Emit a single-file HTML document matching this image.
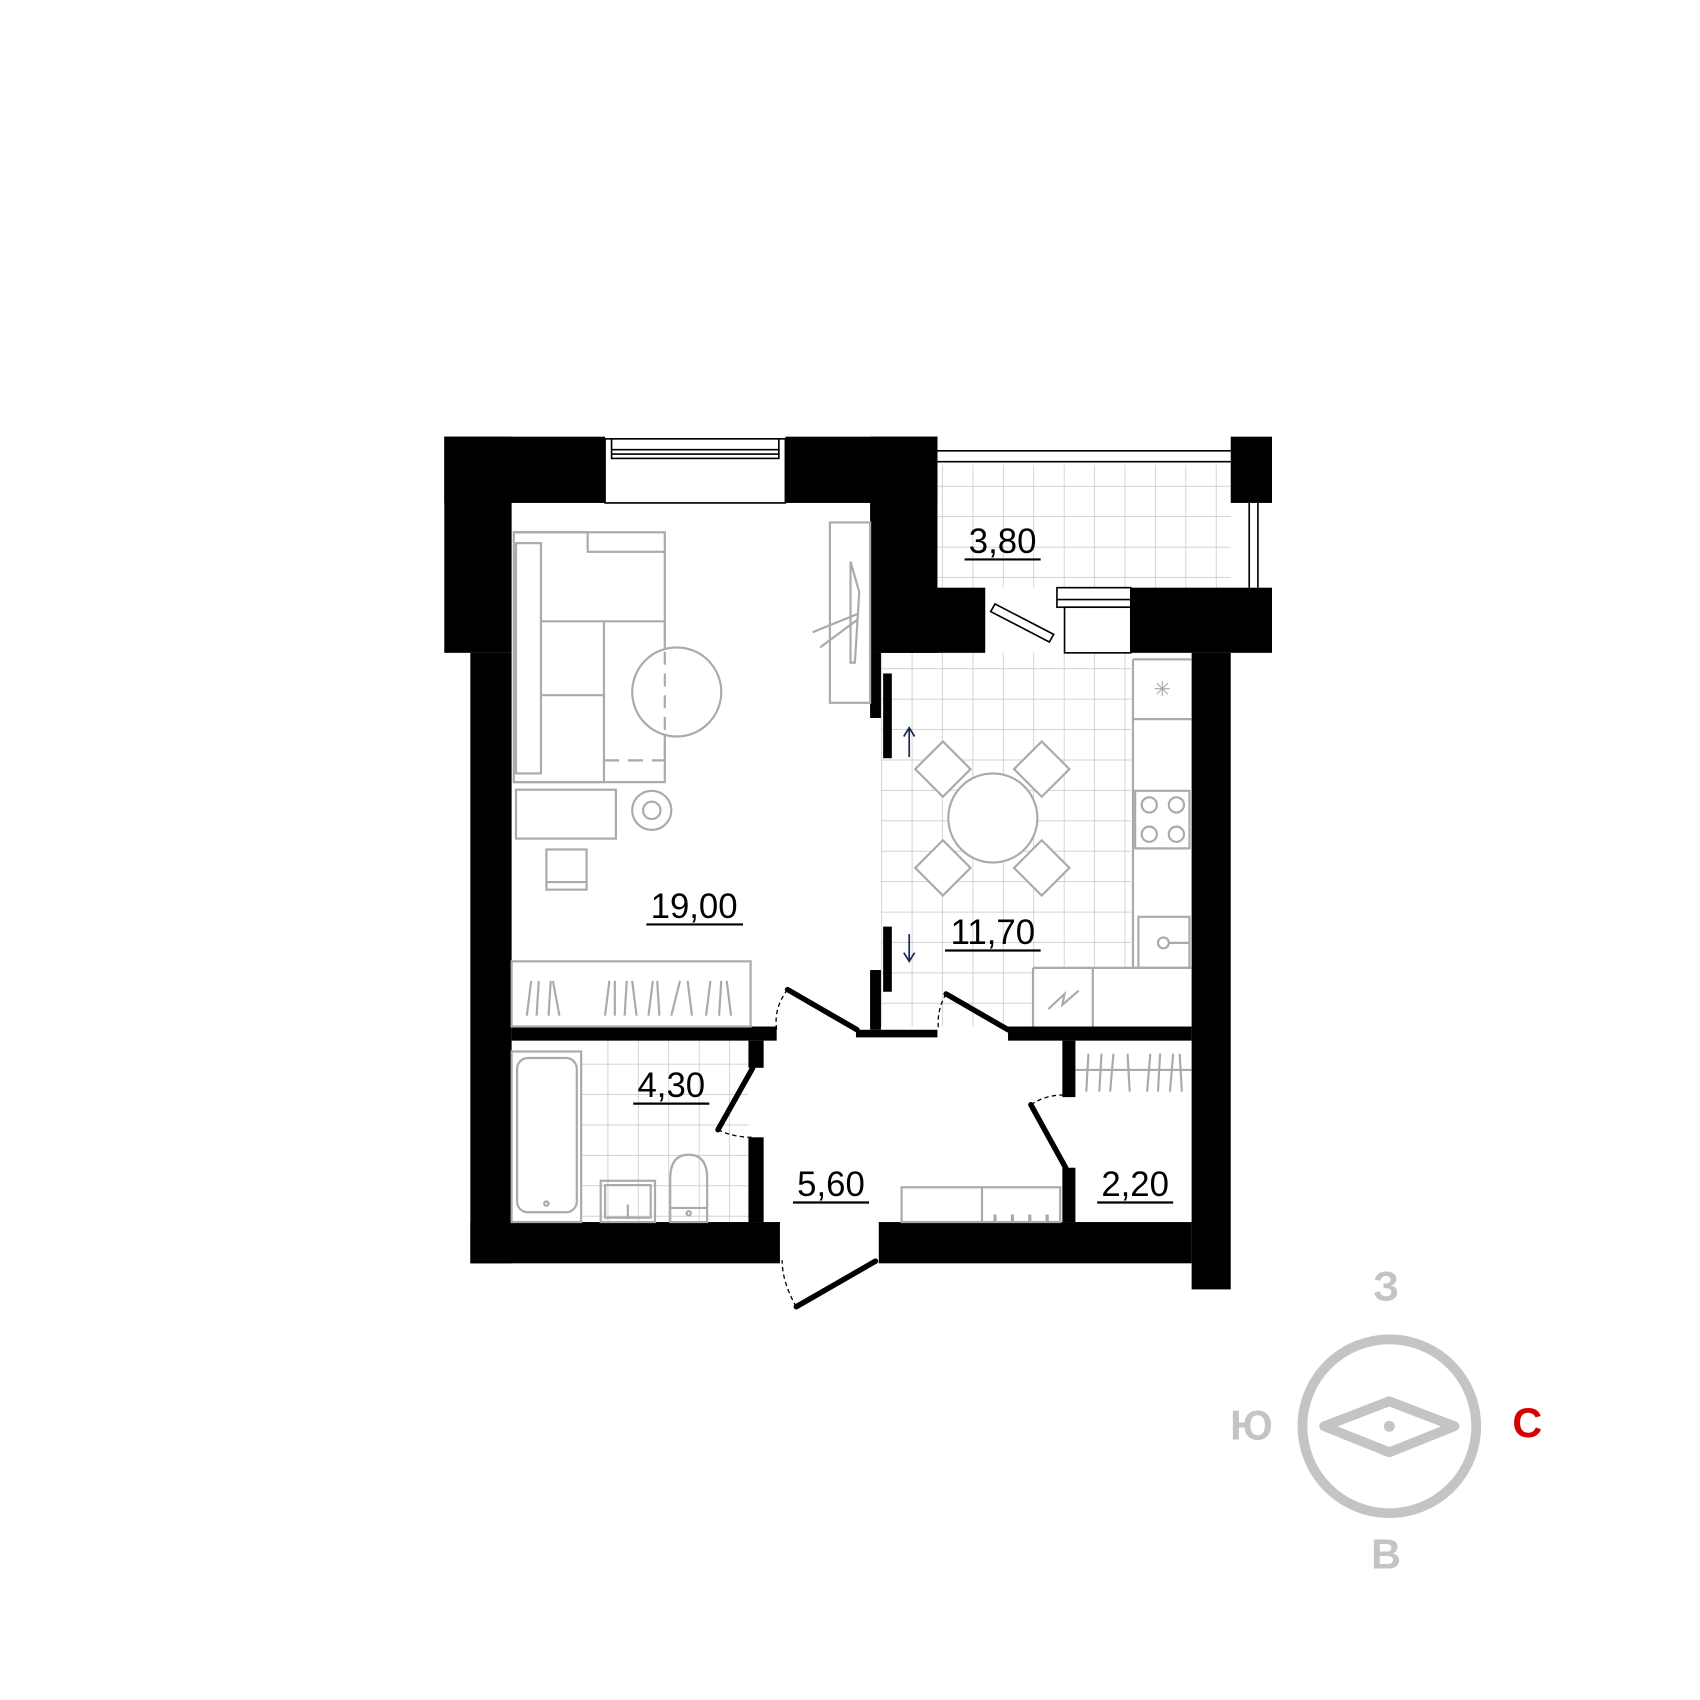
<!DOCTYPE html>
<html><head><meta charset="utf-8"><style>html,body{margin:0;padding:0;background:#fff}svg{display:block}</style></head>
<body>
<svg width="1700" height="1700" viewBox="0 0 1565 1565" xmlns="http://www.w3.org/2000/svg">
<defs>
<pattern id="t" width="28" height="28" patternUnits="userSpaceOnUse"><path d="M28 0V28M0 28H28" stroke="#c4c4c4" stroke-width="1.3" fill="none"/></pattern>
</defs>
<rect x="863" y="428" width="270" height="113" fill="url(#t)"/>
<rect x="811" y="601" width="230" height="290" fill="url(#t)"/>
<rect x="811" y="891" width="140" height="54" fill="url(#t)"/>
<rect x="535" y="958" width="154" height="167" fill="url(#t)"/>
<g fill="#000">
<rect x="409" y="402" width="148" height="61"/>
<rect x="409" y="402" width="62" height="199"/>
<rect x="433" y="601" width="38" height="562"/>
<rect x="723" y="402" width="140" height="61"/>
<rect x="801" y="402" width="62" height="199"/>
<rect x="801" y="541" width="106" height="60"/>
<rect x="1133" y="402" width="38" height="61"/>
<rect x="1041" y="541" width="130" height="60"/>
<rect x="1097" y="601" width="36" height="586"/>
<rect x="433" y="1125" width="285" height="38"/>
<rect x="809" y="1125" width="288" height="38"/>
<rect x="471" y="945" width="244" height="13"/>
<rect x="928" y="945" width="169" height="13"/>
<rect x="788" y="948" width="75" height="7"/>
<rect x="689" y="958" width="14" height="25"/>
<rect x="689" y="1047" width="14" height="78"/>
<rect x="978" y="958" width="12" height="52"/>
<rect x="978" y="1075" width="12" height="50"/>
<rect x="801" y="601" width="10" height="60"/>
<rect x="813" y="620" width="8" height="78"/>
<rect x="813" y="853" width="8" height="60"/>
<rect x="801" y="893" width="10" height="55"/>
</g>
<rect x="557" y="404" width="166" height="59" fill="#fff" stroke="#000" stroke-width="1.5"/>
<rect x="563" y="404" width="154" height="18" fill="#fff" stroke="#000" stroke-width="1.5"/>
<line x1="563" y1="414" x2="717" y2="414" stroke="#000" stroke-width="1.5"/>
<line x1="563" y1="418" x2="717" y2="418" stroke="#000" stroke-width="1.5"/>
<g stroke="#000" stroke-width="1.5" fill="none">
<line x1="863" y1="415" x2="1133" y2="415"/><line x1="863" y1="425" x2="1133" y2="425"/>
<line x1="1150" y1="463" x2="1150" y2="541"/><line x1="1158" y1="463" x2="1158" y2="541"/>
<rect x="973" y="541" width="68" height="18" fill="#fff"/>
<rect x="980" y="559" width="61" height="42" fill="#fff"/>
<line x1="973" y1="552" x2="1041" y2="552"/>
<polygon points="916,556 970,584 966,591 912,563" fill="#fff"/>
</g>
<g stroke="#aaa" stroke-width="2" fill="none">
<rect x="473" y="490" width="139" height="230"/>
<path d="M473 490H541V508H612M473 720H556V572H612"/>
<rect x="475" y="500" width="23" height="212"/>
<line x1="498" y1="572" x2="556" y2="572"/><line x1="498" y1="640" x2="556" y2="640"/>
<line x1="612" y1="572" x2="612" y2="700" stroke-dasharray="14,8"/>
<line x1="556" y1="700" x2="612" y2="700" stroke-dasharray="14,8"/>
<circle cx="623" cy="637" r="41" fill="#fff"/>
<line x1="612" y1="600" x2="612" y2="676" stroke-dasharray="12,8"/>
<rect x="475" y="727" width="92" height="45"/>
<circle cx="600" cy="746" r="18"/><circle cx="600" cy="746" r="8"/>
<rect x="503" y="782" width="37" height="37"/><line x1="503" y1="812" x2="540" y2="812"/>
<rect x="764" y="481" width="37" height="166"/>
<path d="M783 517L791 545L787 610L783 610Z"/>
<line x1="748" y1="582" x2="790" y2="565"/><line x1="755" y1="596" x2="790" y2="570"/>
<rect x="471" y="885" width="220" height="60"/>
<path d="M485 935L489 903M494 935L496 903M505 935L507 903M515 935L509 903M557 935L561 903M566 935L566 903M575 935L577 903M586 935L582 903M597 935L601 903M607 935L605 903M618 935L626 903M637 935L633 903M650 935L654 903M662 935L664 903M673 935L669 903"/>
<circle cx="914" cy="753" r="41" fill="#fff"/>
<g fill="#fff">
<rect x="850" y="690" width="36" height="36" transform="rotate(45 868 708)"/>
<rect x="941" y="690" width="36" height="36" transform="rotate(45 959 708)"/>
<rect x="850" y="781" width="36" height="36" transform="rotate(45 868 799)"/>
<rect x="941" y="781" width="36" height="36" transform="rotate(45 959 799)"/>
</g>
<path d="M1043 607H1097M1043 607V662H1097M1043 891H1097M1043 607V891"/>
<path d="M1063 634H1077M1070 627V641M1065 629L1075 639M1075 629L1065 639" stroke-width="1"/>
<rect x="1045" y="728" width="50" height="53"/>
<circle cx="1058" cy="741" r="7"/><circle cx="1083" cy="741" r="7"/><circle cx="1058" cy="768" r="7"/><circle cx="1083" cy="768" r="7"/>
<rect x="1048" y="844" width="47" height="47"/>
<circle cx="1071" cy="868" r="5"/><line x1="1076" y1="868" x2="1095" y2="868"/>
<path d="M951 891H1097M951 891V945M1006 891V945"/>
<path d="M965 929L980 915L978 925L993 912"/>
<rect x="471" y="968" width="64" height="157"/>
<rect x="476" y="974" width="55" height="142" rx="10"/>
<circle cx="503" cy="1108" r="2"/>
<rect x="553" y="1087" width="50" height="38"/><rect x="557" y="1091" width="42" height="30"/>
<path d="M578 1109V1120M574 1121H583"/>
<path d="M617 1125V1085Q617 1063 634 1063Q651 1063 651 1085V1125Z"/><line x1="617" y1="1112" x2="651" y2="1112"/>
<circle cx="634" cy="1117" r="2"/>
<path d="M1000 1005L1002 970M1012 1005L1014 970M1022 1005L1025 970M1040 1005L1038 970M1056 1005L1059 970M1066 1005L1068 970M1077 1005L1080 970M1088 1005L1086 970"/>
<line x1="990" y1="985" x2="1097" y2="985"/>
<rect x="830" y="1093" width="146" height="32"/><line x1="904" y1="1093" x2="904" y2="1125"/>
<path d="M916 1118V1125M932 1118V1125M948 1118V1125M964 1118V1125" stroke-width="3"/>
</g>
<g stroke="#000" stroke-width="5" fill="none" stroke-linecap="round">
<line x1="725" y1="911" x2="789" y2="948"/>
<line x1="871" y1="915" x2="928" y2="948"/>
<line x1="693" y1="983" x2="661" y2="1040"/>
<line x1="949" y1="1017" x2="981" y2="1075"/>
<line x1="733" y1="1203" x2="806" y2="1161"/>
</g>
<g stroke="#000" stroke-width="1.2" fill="none" stroke-dasharray="4,3">
<path d="M725 911Q712 928 715 948"/>
<path d="M871 915Q862 930 864 948"/>
<path d="M661 1040Q675 1047 693 1047"/>
<path d="M949 1017Q962 1008 980 1008"/>
<path d="M733 1203Q720 1180 720 1160"/>
</g>
<g stroke="#1f2a5a" stroke-width="1.6" fill="none">
<path d="M837 697V671M832 678L837 670L842 678"/>
<path d="M837 860V885M832 877L837 885L842 877"/>
</g>
<g font-family="Liberation Sans, sans-serif" font-size="32" fill="#000" text-anchor="middle">
<text x="923" y="509">3,80</text><line x1="888" y1="515" x2="958" y2="515" stroke="#000" stroke-width="2"/>
<text x="639" y="845">19,00</text><line x1="595" y1="851" x2="684" y2="851" stroke="#000" stroke-width="2"/>
<text x="914" y="869">11,70</text><line x1="870" y1="875" x2="958" y2="875" stroke="#000" stroke-width="2"/>
<text x="618" y="1010">4,30</text><line x1="583" y1="1016" x2="653" y2="1016" stroke="#000" stroke-width="2"/>
<text x="765" y="1101">5,60</text><line x1="730" y1="1107" x2="800" y2="1107" stroke="#000" stroke-width="2"/>
<text x="1045" y="1101">2,20</text><line x1="1010" y1="1107" x2="1080" y2="1107" stroke="#000" stroke-width="2"/>
</g>
<circle cx="1279" cy="1313" r="80" fill="none" stroke="#c4c4c4" stroke-width="9"/>
<polygon points="1219,1313 1279,1290 1339,1313 1279,1337" fill="none" stroke="#c4c4c4" stroke-width="9" stroke-linejoin="round"/>
<circle cx="1279" cy="1313" r="5" fill="#c4c4c4"/>
<g font-family="Liberation Sans, DejaVu Sans, sans-serif" font-size="38" font-weight="bold" text-anchor="middle" fill="#c4c4c4">
<text x="1276" y="1197">З</text>
<text x="1276" y="1444">В</text>
<text x="1152" y="1325">Ю</text>
<text x="1406" y="1323" fill="#d90000">С</text>
</g>
</svg>
</body></html>
